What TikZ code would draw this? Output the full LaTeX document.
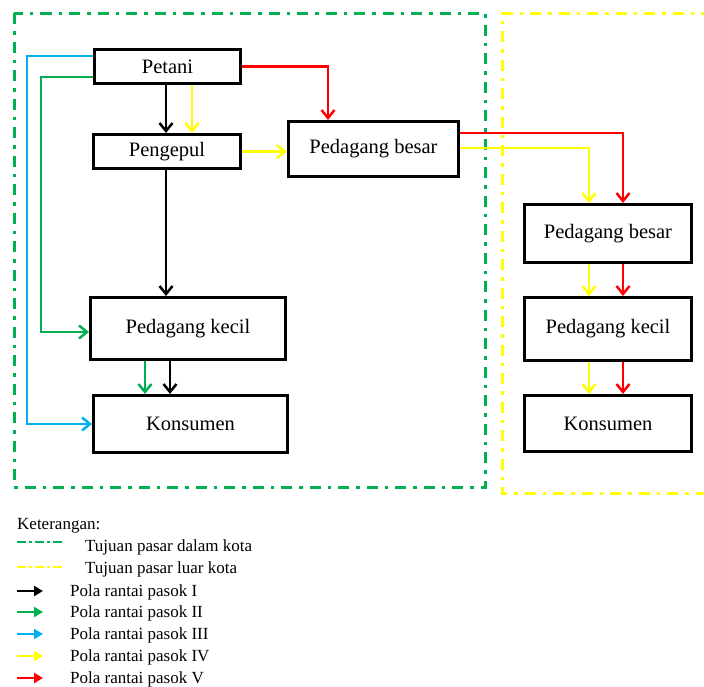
\documentclass[tikz,border=0pt]{standalone}
\usepackage{fontspec}
\setmainfont{Liberation Serif}
\usetikzlibrary{arrows.meta}
\definecolor{cgreen}{RGB}{0,176,80}
\definecolor{cblue}{RGB}{0,176,240}
\definecolor{cyellow}{RGB}{255,255,0}
\definecolor{cred}{RGB}{255,0,0}
\tikzset{
  box/.style={draw=black, line width=3pt, rectangle, inner sep=0pt, font=\fontsize{20.5}{24}\selectfont},
  arr/.style={line width=2.7pt, -{Straight Barb[length=8pt,width=13pt,line width=2.5pt]}},
  legarr/.style={line width=2.7pt, -{Triangle[length=9pt,width=10pt]}},
  legtext/.style={anchor=base west, inner sep=0pt, font=\fontsize{17}{20}\selectfont},
  greenbox/.style={draw=cgreen, line width=3pt, dash pattern=on 11pt off 7pt on 3.5pt off 7pt},
  yellowbox/.style={draw=cyellow, line width=3pt, dash pattern=on 11pt off 7pt on 3.5pt off 7pt},
}
\begin{document}
\begin{tikzpicture}[x=1pt,y=-1pt]
\useasboundingbox (0,0) rectangle (704,686);
% market boundaries
\draw[greenbox] (14,13) rectangle (485,487);
\draw[yellowbox] (712,13) -- (502,13) -- (502,493) -- (712,493);
% nodes
\node[box, minimum width=146pt, minimum height=34pt] (petani) at (167.5,66.5) {Petani};
\node[box, minimum width=147pt, minimum height=34pt] (pengepul) at (167,151.5) {Pengepul};
\node[box, minimum width=170pt, minimum height=55pt] (pbl) at (373.5,149) {Pedagang besar};
\node[box, minimum width=195pt, minimum height=62pt] (pkl) at (188,328.5) {Pedagang kecil};
\node[box, minimum width=194pt, minimum height=57pt] (kl) at (190.5,424) {Konsumen};
\node[box, minimum width=167pt, minimum height=58pt] (pbr) at (608,233.5) {Pedagang besar};
\node[box, minimum width=167pt, minimum height=63pt] (pkr) at (608,329) {Pedagang kecil};
\node[box, minimum width=167pt, minimum height=56pt] (kr) at (608,423.5) {Konsumen};
% helper coordinates
\coordinate (xa) at (166,0);
\coordinate (xy) at (192,0);
\coordinate (xr) at (328,0);
\coordinate (xb) at (27,0);
\coordinate (xg) at (41,0);
\coordinate (xg2) at (145,0);
\coordinate (xk) at (170,0);
\coordinate (xry) at (589,0);
\coordinate (xrr) at (623,0);
\coordinate (yb) at (0,56);
\coordinate (yg) at (0,77);
\coordinate (yg2) at (0,332);
\coordinate (yr) at (0,133);
\coordinate (yy) at (0,148);
% pola I (black)
\draw[arr, black] (petani.south -| xa) -- (pengepul.north -| xa);
\draw[arr, black] (pengepul.south -| xa) -- (pkl.north -| xa);
\draw[arr, black] (pkl.south -| xk) -- (kl.north -| xk);
% pola II (green)
\draw[arr, cgreen] (petani.west |- yg) -- (xg |- yg) -- (xg |- yg2) -- (pkl.west |- yg2);
\draw[arr, cgreen] (pkl.south -| xg2) -- (kl.north -| xg2);
% pola III (blue)
\draw[arr, cblue] (petani.west |- yb) -- (xb |- yb) -- (xb |- kl.west) -- (kl.west);
% pola IV (yellow)
\draw[arr, cyellow] (petani.south -| xy) -- (pengepul.north -| xy);
\draw[arr, cyellow] (pengepul.east) -- (pbl.west |- pengepul.east);
\draw[arr, cyellow] (pbl.east |- yy) -- (xry |- yy) -- (pbr.north -| xry);
\draw[arr, cyellow] (pbr.south -| xry) -- (pkr.north -| xry);
\draw[arr, cyellow] (pkr.south -| xry) -- (kr.north -| xry);
% pola V (red)
\draw[arr, cred] (petani.east) -- (xr |- petani.east) -- (pbl.north -| xr);
\draw[arr, cred] (pbl.east |- yr) -- (xrr |- yr) -- (pbr.north -| xrr);
\draw[arr, cred] (pbr.south -| xrr) -- (pkr.north -| xrr);
\draw[arr, cred] (pkr.south -| xrr) -- (kr.north -| xrr);
% legend
\node[legtext] (ket) at (17,529) {Keterangan:};
\coordinate (lg1) at (17,542); \coordinate (lg2) at (63,542);
\draw[draw=cgreen, line width=2.5pt, dash pattern=on 9pt off 3pt on 3pt off 3pt] (lg1) -- (lg2);
\node[legtext] (t1) at (85,551) {Tujuan pasar dalam kota};
\coordinate (ly1) at (17,567); \coordinate (ly2) at (63,567);
\draw[draw=cyellow, line width=2.5pt, dash pattern=on 9pt off 3pt on 3pt off 3pt] (ly1) -- (ly2);
\node[legtext] (t2) at (85,573) {Tujuan pasar luar kota};
\coordinate (a1s) at (17,591); \coordinate (a1e) at (43,591);
\coordinate (a2s) at (17,612); \coordinate (a2e) at (43,612);
\coordinate (a3s) at (17,634); \coordinate (a3e) at (43,634);
\coordinate (a4s) at (17,656); \coordinate (a4e) at (43,656);
\coordinate (a5s) at (17,678); \coordinate (a5e) at (43,678);
\draw[legarr, black] (a1s) -- (a1e);
\draw[legarr, cgreen] (a2s) -- (a2e);
\draw[legarr, cblue] (a3s) -- (a3e);
\draw[legarr, cyellow] (a4s) -- (a4e);
\draw[legarr, cred] (a5s) -- (a5e);
\node[legtext] (p1) at (70,596) {Pola rantai pasok I};
\node[legtext] (p2) at (70,617) {Pola rantai pasok II};
\node[legtext] (p3) at (70,639) {Pola rantai pasok III};
\node[legtext] (p4) at (70,661) {Pola rantai pasok IV};
\node[legtext] (p5) at (70,683) {Pola rantai pasok V};
\end{tikzpicture}
\end{document}
